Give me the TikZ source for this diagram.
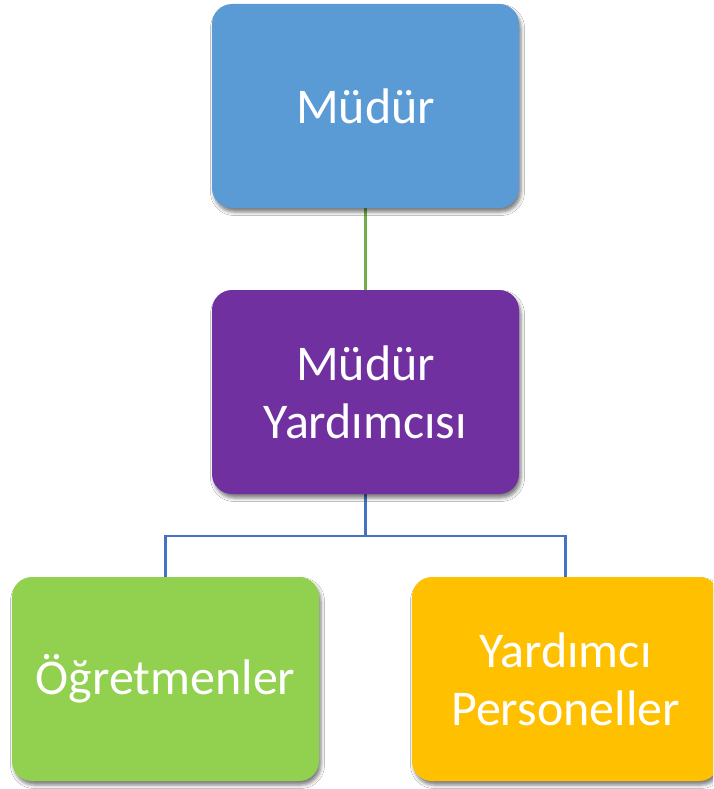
\documentclass[tikz,border=0pt]{standalone}
\usepackage{fontspec}
\setmainfont{Carlito}
\usetikzlibrary{shadows.blur}
\definecolor{cblue}{HTML}{5B9BD5}
\definecolor{cpurple}{HTML}{7030A0}
\definecolor{cgreen}{HTML}{92D050}
\definecolor{cyellow}{HTML}{FFC000}
\definecolor{lgreen}{HTML}{70AD47}
\definecolor{lblue}{HTML}{4472C4}
\tikzset{
  orgbox/.style={rectangle, rounded corners=20pt, minimum width=307pt, minimum height=204pt,
    inner sep=0pt, align=center, text=white, font=\fontsize{50}{58}\selectfont,
    blur shadow={shadow xshift=2pt, shadow yshift=-4pt, shadow blur radius=3.5pt, shadow opacity=50}},
  conn/.style={line width=2.6pt}
}
\begin{document}
\begin{tikzpicture}[x=1pt,y=-1pt]
\clip (0,0) rectangle (713,789);
\fill[white] (0,0) rectangle (713,789);
\coordinate (mc) at (365.5,106);
\coordinate (myc) at (365.5,392);
\coordinate (oc) at (165.5,679);
\coordinate (ypc) at (565.5,679);
\coordinate (j) at (365.5,536);
\draw[conn, draw=lgreen] (mc) -- (myc);
\draw[conn, draw=lblue] (myc) -- (j) -| (oc);
\draw[conn, draw=lblue] (j) -| (ypc);
\node[orgbox, fill=cblue] (m) at (mc) {Müdür};
\node[orgbox, fill=cpurple] (my) at (myc) {Müdür\\Yardımcısı};
\node[orgbox, fill=cgreen] (o) at (oc) {Öğretmenler};
\node[orgbox, fill=cyellow] (yp) at (ypc) {Yardımcı\\Personeller};
\end{tikzpicture}
\end{document}
